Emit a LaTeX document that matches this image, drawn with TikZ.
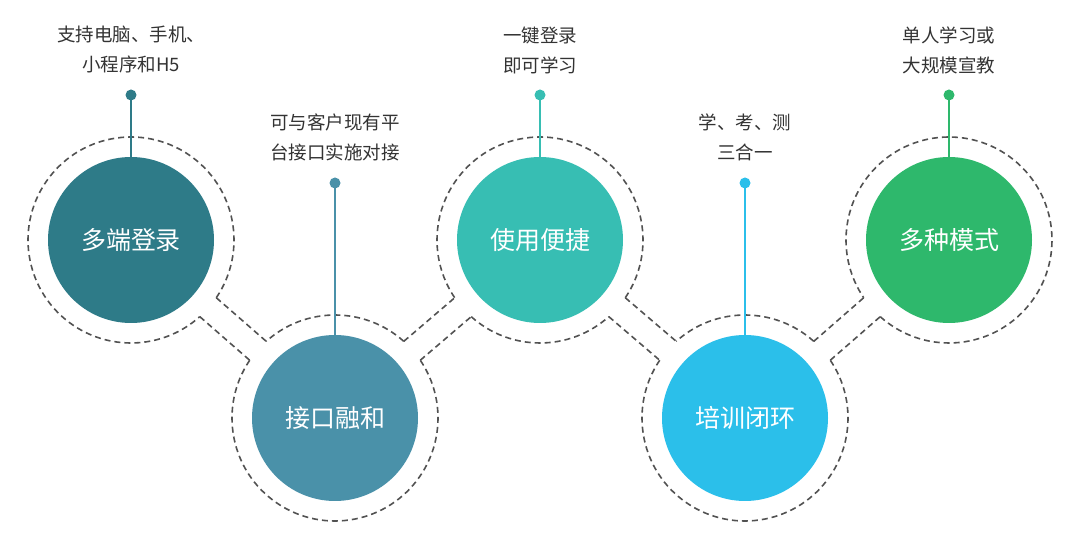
\documentclass[tikz,border=0pt]{standalone}
\usepackage{fontspec}
\setmainfont{Noto Sans CJK SC}
\usetikzlibrary{calc}
\begin{document}
\begin{tikzpicture}[x=1pt,y=1pt,
  disc/.style={circle,minimum size=166pt,inner sep=0pt,text=white,font=\fontsize{25}{30}\selectfont},
  ring/.style={draw=black!68,line width=1.6pt,dash pattern=on 6pt off 4pt},
  pin/.style={line width=2pt},
  lbl/.style={align=center,text=black!80,font=\fontsize{18.5}{30}\selectfont}]
\useasboundingbox (0,0) rectangle (1080,546);
\definecolor{c1}{HTML}{2E7B88}
\definecolor{c2}{HTML}{4A91A9}
\definecolor{c3}{HTML}{37BEB3}
\definecolor{c4}{HTML}{2BBFEA}
\definecolor{c5}{HTML}{2EB86C}
\coordinate (p1) at (131,306);
\coordinate (p2) at (335,128);
\coordinate (p3) at (540,306);
\coordinate (p4) at (745,128);
\coordinate (p5) at (949,306);
\node[disc,fill=c1] (n1) at (p1) {多端登录};
\node[disc,fill=c2] (n2) at (p2) {接口融和};
\node[disc,fill=c3] (n3) at (p3) {使用便捷};
\node[disc,fill=c4] (n4) at (p4) {培训闭环};
\node[disc,fill=c5] (n5) at (p5) {多种模式};
% rings
\draw[ring] (p1) ++(-34.1:103) arc[start angle=-34.1,end angle=311.9,radius=103];
\draw[ring] (p2) ++(48.1:103) arc[start angle=48.1,end angle=131.9,radius=103];
\draw[ring] (p2) ++(145.9:103) arc[start angle=145.9,end angle=394.1,radius=103];
\draw[ring] (p3) ++(-34.1:103) arc[start angle=-34.1,end angle=214.1,radius=103];
\draw[ring] (p3) ++(228.1:103) arc[start angle=228.1,end angle=311.9,radius=103];
\draw[ring] (p4) ++(48.1:103) arc[start angle=48.1,end angle=131.9,radius=103];
\draw[ring] (p4) ++(145.9:103) arc[start angle=145.9,end angle=394.1,radius=103];
\draw[ring] (p5) ++(228.1:103) arc[start angle=228.1,end angle=574.1,radius=103];
% tubes
\foreach \a/\b/\d in {p1/p2/-41.1,p2/p3/41.1,p3/p4/-41.1,p4/p5/41.1}{
  \draw[ring] ($(\a)+(\d+7:103)$) -- ($(\b)+(\d+173:103)$);
  \draw[ring] ($(\a)+(\d-7:103)$) -- ($(\b)+(\d+187:103)$);
}
% pins
\foreach \i/\y/\c in {1/451/c1,2/363/c2,3/451/c3,4/363/c4,5/451/c5}{
  \coordinate (d\i) at (n\i.north |- 0,\y);
  \draw[pin,draw=\c] (n\i.north) -- (d\i);
  \fill[\c] (d\i) circle (5.5);
}
\node[lbl] (t1) at (131,496) {支持电脑、手机、\\小程序和H5};
\node[lbl] (t2) at (335,409) {可与客户现有平\\台接口实施对接};
\node[lbl] (t3) at (540,496) {一键登录\\即可学习};
\node[lbl] (t4) at (745,409) {学、考、测\\三合一};
\node[lbl] (t5) at (949,496) {单人学习或\\大规模宣教};
\end{tikzpicture}
\end{document}
